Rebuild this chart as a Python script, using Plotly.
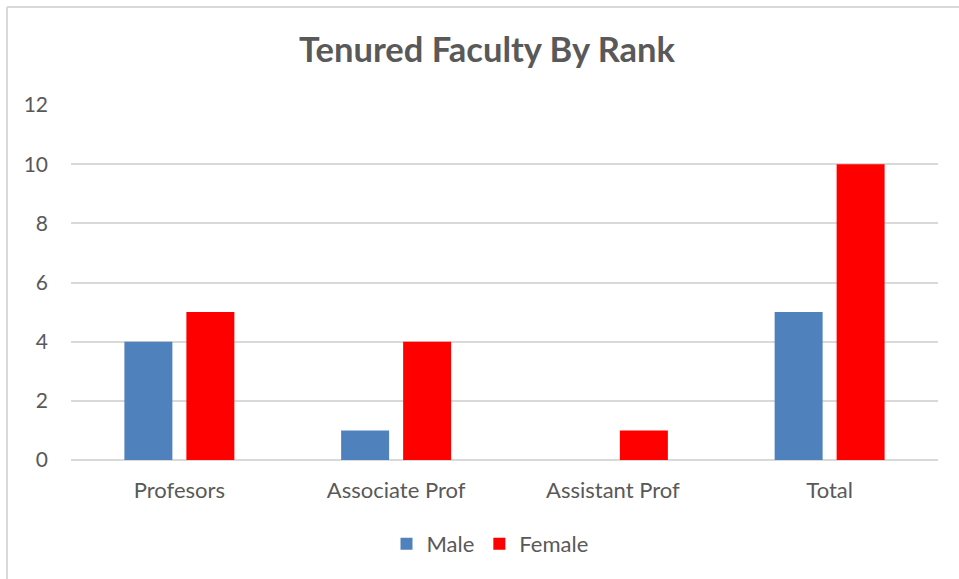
import plotly.graph_objects as go

categories = ["Profesors", "Associate Prof", "Assistant Prof", "Total"]
male = [4, 1, 0, 5]
female = [5, 4, 1, 10]
y_ticks = [0, 2, 4, 6, 8, 10, 12]

FONT = "Lato"
GRAY = "#595959"

W, H = 959, 579
L, R, T, B = 71, 21, 105, 119
PW = W - L - R
PH = H - T - B

fig = go.Figure()
fig.add_trace(go.Bar(name="Male", x=categories, y=male, marker=dict(color="#4F81BD", line=dict(width=0))))
fig.add_trace(go.Bar(name="Female", x=categories, y=female, marker=dict(color="#FF0000", line=dict(width=0))))

fig.update_layout(
    width=W, height=H,
    paper_bgcolor="white", plot_bgcolor="white",
    barmode="group", bargap=0.428, bargroupgap=0.226,
    margin=dict(l=L, r=R, t=T, b=B),
    title=dict(text="<b>Tenured Faculty By Rank</b>", x=487 / W, xanchor="center",
               y=1 - 50 / H, yanchor="middle",
               font=dict(family=FONT, size=34.5, color=GRAY)),
    font=dict(family=FONT, color=GRAY),
    xaxis=dict(showgrid=False, showline=False, zeroline=False, ticks="",
               tickfont=dict(size=22, color=GRAY), ticklabelstandoff=15),
    yaxis=dict(range=[0, 12], tickvals=y_ticks, showgrid=True, gridcolor="#D9D9D9",
               gridwidth=1.5, zeroline=True, zerolinecolor="#D9D9D9", zerolinewidth=1.5,
               showline=False, ticks="", tickfont=dict(size=21, color=GRAY),
               ticklabelstandoff=22),
    legend=dict(orientation="h", x=(490 - L) / PW, xanchor="center", y=-(544 - 460) / PH,
                yanchor="middle", itemwidth=30,
                font=dict(size=22, color=GRAY), traceorder="normal"),
    showlegend=True,
    shapes=[
        dict(type="line", xref="paper", yref="paper", x0=-(L - 7) / PW, x1=1 + (R + 10) / PW,
             y0=1 + (T - 7) / PH, y1=1 + (T - 7) / PH, line=dict(color="#D9D9D9", width=2)),
        dict(type="line", xref="paper", yref="paper", x0=-(L - 7) / PW, x1=-(L - 7) / PW,
             y0=1 + (T - 7) / PH, y1=-(B + 10) / PH, line=dict(color="#D9D9D9", width=2)),
    ],
)

fig.write_html(
    "out.html",
    config={"displayModeBar": False},
    post_script="document.body.style.margin='0';document.body.style.overflow='hidden';"
                "document.documentElement.style.overflow='hidden';",
)
